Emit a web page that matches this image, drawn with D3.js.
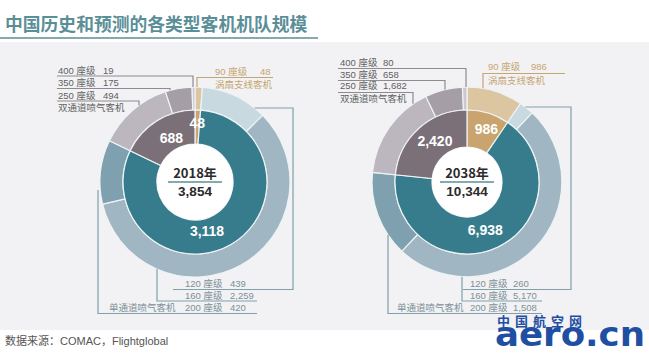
<!DOCTYPE html>
<html>
<head>
<meta charset="utf-8">
<script src="https://cdn.jsdelivr.net/npm/d3@7"></script>
<style>
  body { margin: 0; background: #ffffff; }
  svg { display: block; }
  text { font-family: "Liberation Sans", "Noto Sans CJK SC", sans-serif; }
</style>
</head>
<body>
<div id="chart"></div>
<script>
// data
var years = ["2018年", "2038年"];
var totals = [3854, 10344];
var innerCats = ["涡扇支线客机", "单通道喷气客机", "双通道喷气客机"];
var inner2018 = [48, 3118, 688];
var inner2038 = [986, 6938, 2420];
var outerCats = ["90 座级", "120 座级", "160 座级", "200 座级", "250 座级", "350 座级", "400 座级"];
var outer2018 = [48, 439, 2259, 420, 494, 175, 19];
var outer2038 = [986, 260, 5170, 1508, 1682, 658, 80];

var width = 649;
var height = 353;
var font = "'Liberation Sans', 'Noto Sans CJK SC', sans-serif";
var innerColors = ["#c9a46e", "#377c8c", "#7b6f78"];
var outerColors = ["#dcc5a1", "#c8d9e0", "#a0b6c2", "#7ea0af", "#bcb7be", "#a69ea7", "#cdc8cf"];
var color_title = "#5b8f98";
var color_wide = "#8e8a90";
var color_single = "#7f9faa";
var color_tan = "#c5a673";

var svg = d3.select("#chart").append("svg")
  .attr("width", width)
  .attr("height", height);

// background panel
svg.append("rect")
  .attr("x", 0).attr("y", 42)
  .attr("width", width).attr("height", 288)
  .style("fill", "#f2f2f4");

// title
svg.append("text")
  .attr("x", 5).attr("y", 31)
  .style("font-family", "'Noto Sans CJK SC', sans-serif")
  .style("font-size", "17.8px")
  .style("font-weight", "bold")
  .style("fill", color_title)
  .text("中国历史和预测的各类型客机机队规模");

svg.append("line")
  .attr("x1", 0).attr("x2", 318)
  .attr("y1", 38).attr("y2", 38)
  .style("stroke", "#86a9ae")
  .style("stroke-width", 2);

// source
svg.append("text")
  .attr("x", 5).attr("y", 345)
  .style("font-family", font)
  .style("font-size", "11px")
  .style("fill", "#555555")
  .text("数据来源：COMAC，Flightglobal");

// layout for each donut (positions only)
var layouts = [
  {
    cx: 195, cy: 182, hole: 38, valueOffset: 45,
    labelR: [59, 50, 50], labelNudge: [0, 16, 4],
    wide: {textX: 58, ys: [73.5, 86, 98.5], lineYs: [76, 88.5, 101], lineX1: 57, vxs: [193, 170, 139], catY: 111},
    tan: {textX: 215, y: 75, lineY: 77.5, vx: 197, x2: 273, catY: 88},
    single: {
      l120: {lineY: 108, vx: 293, downY: 289.5, x2: 173, textX: 185, y: 287},
      l160: {vx: 157, lineY: 301, x2: 257, textX: 185, y: 298.5},
      l200: {vx: 98, lineY: 313.5, x2: 257, textX: 185, catX: 109, y: 311, startY: 190}
    }
  },
  {
    cx: 467, cy: 182, hole: 35, valueOffset: 43,
    labelR: [56, 51, 52], labelNudge: [3, 4, 4],
    wide: {textX: 340, ys: [65.5, 77.5, 89], lineYs: [68.5, 80.5, 92.5], lineX1: 338, vxs: [466, 445, 413], catY: 102},
    tan: {textX: 488, y: 70, lineY: 73.5, vx: 483, x2: 565, catY: 84},
    single: {
      l120: {lineY: 107, vx: 571, downY: 289.5, x2: 463, textX: 470, y: 287},
      l160: {vx: 462, lineY: 301, x2: 542, textX: 470, y: 298.5},
      l200: {vx: 388, lineY: 313.5, x2: 542, textX: 470, catX: 397, y: 311, startY: null}
    }
  }
];

var innerData = [inner2018, inner2038];
var outerData = [outer2018, outer2038];

var rInner = 72;
var rOuter = 95;

var pie = d3.pie().sort(null).value(function(d) { return d; });
var fmt = d3.format(",");

layouts.forEach(function(L, k) {
  var g = svg.append("g").attr("transform", "translate(" + L.cx + "," + L.cy + ")");

  var outerArc = d3.arc().innerRadius(rInner).outerRadius(rOuter);
  var innerArc = d3.arc().innerRadius(L.hole).outerRadius(rInner);

  g.selectAll("path.outer")
    .data(pie(outerData[k]))
    .enter().append("path")
    .attr("class", "outer")
    .attr("d", outerArc)
    .style("fill", function(d, i) { return outerColors[i]; })
    .style("stroke", "#eef3f5")
    .style("stroke-width", 1.2);

  var innerPie = pie(innerData[k]);
  g.selectAll("path.inner")
    .data(innerPie)
    .enter().append("path")
    .attr("class", "inner")
    .attr("d", innerArc)
    .style("fill", function(d, i) { return innerColors[i]; })
    .style("stroke", "#eef3f5")
    .style("stroke-width", 1.2);

  g.append("circle").attr("r", L.hole).style("fill", "#ffffff");

  // inner value labels, placed along the mid angle of each slice
  g.selectAll("text.val")
    .data(innerPie)
    .enter().append("text")
    .attr("class", "val")
    .attr("transform", function(d, i) {
      var a = (d.startAngle + d.endAngle) / 2 + L.labelNudge[i] * Math.PI / 180;
      var r = L.labelR[i];
      return "translate(" + (r * Math.sin(a)) + "," + (-r * Math.cos(a) + 5) + ")";
    })
    .style("text-anchor", "middle")
    .style("font-family", font)
    .style("font-size", "14px")
    .style("font-weight", "bold")
    .style("fill", "#ffffff")
    .text(function(d) { return fmt(d.data); });

  // center
  g.append("text")
    .attr("y", -4)
    .style("text-anchor", "middle")
    .style("font-family", "'Noto Sans CJK SC', sans-serif")
    .style("font-size", "13px")
    .style("font-weight", "bold")
    .style("fill", "#2b2b2b")
    .text(years[k]);
  g.append("line")
    .attr("x1", -27).attr("x2", 27)
    .attr("y1", 0).attr("y2", 0)
    .style("stroke", "#5b8f98")
    .style("stroke-width", 1.3);
  g.append("text")
    .attr("y", 14)
    .style("text-anchor", "middle")
    .style("font-family", font)
    .style("font-size", "13.5px")
    .style("font-weight", "bold")
    .style("fill", "#2b2b2b")
    .text(fmt(totals[k]));

  // ring edge helpers (absolute coords)
  function ringY(x, top) {
    var dx = x - L.cx;
    var dy = Math.sqrt(Math.max(0, rOuter * rOuter - dx * dx));
    return top ? L.cy - dy : L.cy + dy;
  }
  function ringX(y) {
    var dy = y - L.cy;
    return L.cx + Math.sqrt(Math.max(0, rOuter * rOuter - dy * dy));
  }

  function label(x, y, color, txt, val) {
    svg.append("text")
      .attr("x", x).attr("y", y)
      .style("font-family", font)
      .style("font-size", "9.5px")
      .style("fill", color)
      .text(txt);
    if (val != null) {
      svg.append("text")
        .attr("x", x + L.valueOffset).attr("y", y)
        .style("font-family", font)
        .style("font-size", "9.5px")
        .style("fill", color)
        .text(fmt(val));
    }
  }

  function path(pts, color) {
    svg.append("path")
      .attr("d", d3.line()(pts))
      .style("fill", "none")
      .style("stroke", color)
      .style("stroke-width", 1.2);
  }

  var outer = outerData[k];

  // wide-body labels: 400, 350, 250 (indices 6, 5, 4)
  var W = L.wide;
  [6, 5, 4].forEach(function(idx, j) {
    label(W.textX, W.ys[j], "#5f5f5f", outerCats[idx], outer[idx]);
    path([[W.lineX1, W.lineYs[j]], [W.vxs[j], W.lineYs[j]], [W.vxs[j], ringY(W.vxs[j], true)]], color_wide);
  });
  label(W.textX, W.catY, "#5f5f5f", innerCats[2], null);

  // turbofan regional
  var T = L.tan;
  label(T.textX, T.y, color_tan, outerCats[0], outer[0]);
  label(T.textX, T.catY, color_tan, innerCats[0], null);
  path([[T.vx, ringY(T.vx, true)], [T.vx, T.lineY], [T.x2, T.lineY]], color_tan);

  // single-aisle
  var S = L.single;
  var c120 = S.l120;
  path([[ringX(c120.lineY), c120.lineY], [c120.vx, c120.lineY], [c120.vx, c120.downY], [c120.x2, c120.downY]], color_single);
  label(c120.textX, c120.y, "#7d8f97", outerCats[1], outer[1]);

  var c160 = S.l160;
  path([[c160.vx, ringY(c160.vx, false)], [c160.vx, c160.lineY], [c160.x2, c160.lineY]], color_single);
  label(c160.textX, c160.y, "#7d8f97", outerCats[2], outer[2]);

  var c200 = S.l200;
  var sy = c200.startY != null ? c200.startY : ringY(c200.vx, false);
  path([[c200.vx, sy], [c200.vx, c200.lineY], [c200.x2, c200.lineY]], color_single);
  label(c200.catX, c200.y, "#7d8f97", innerCats[1], null);
  label(c200.textX, c200.y, "#7d8f97", outerCats[3], outer[3]);
});

// watermark
svg.append("text")
  .attr("x", 497).attr("y", 326)
  .style("font-family", "'Noto Sans CJK SC', sans-serif")
  .style("font-size", "13px")
  .style("font-weight", "bold")
  .style("letter-spacing", "5px")
  .style("fill", "#1f4fa3")
  .text("中国航空网");
svg.append("text")
  .attr("x", 495).attr("y", 346)
  .attr("textLength", 150)
  .attr("lengthAdjust", "spacingAndGlyphs")
  .style("font-family", "'DejaVu Sans', sans-serif")
  .style("font-size", "33px")
  .style("font-weight", "bold")
  .style("fill", "#1f4fa3")
  .text("aero.cn");
</script>
</body>
</html>
